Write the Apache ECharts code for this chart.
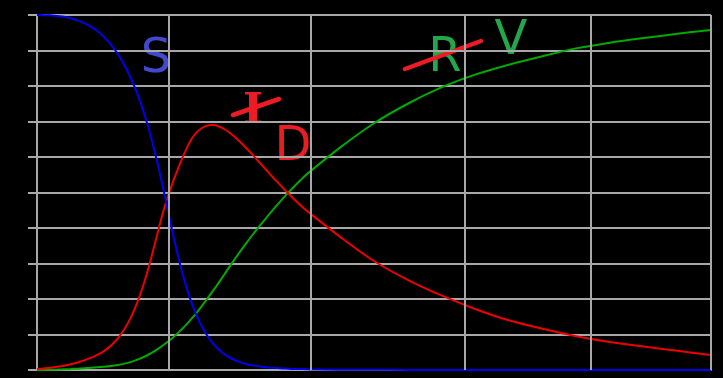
<!DOCTYPE html>
<html>
<head>
<meta charset="utf-8">
<script src="https://cdn.jsdelivr.net/npm/echarts@6/dist/echarts.min.js"></script>
<style>
  html, body { margin: 0; padding: 0; background: #000; }
  #chart { width: 723px; height: 378px; }
</style>
</head>
<body>
<div id="chart"></div>
<script>
// time points (x), read as 0..100 across the plot
var t = [
  0, 1, 2, 3, 4, 5, 6, 7, 8, 9, 10, 11, 12, 13, 14, 15, 16, 17, 18, 19, 20,
  21, 22, 23, 24, 25, 26, 27, 28, 29, 30, 31, 32, 33, 34, 35, 36, 37, 38, 39, 40,
  45, 50, 55, 60, 65, 70, 75, 80, 85, 90, 95, 100
];
// S (blue)
var sVals = [
  1.000, 0.9995, 0.999, 0.997, 0.995, 0.991, 0.985, 0.977, 0.967, 0.954, 0.937,
  0.916, 0.890, 0.858, 0.819, 0.772, 0.716, 0.650, 0.573, 0.487, 0.398,
  0.315, 0.244, 0.186, 0.140, 0.104, 0.077, 0.057, 0.042, 0.031, 0.023,
  0.017, 0.013, 0.010, 0.008, 0.006, 0.005, 0.004, 0.003, 0.003, 0.002,
  0.001, 0.001, 0, 0, 0, 0, 0, 0, 0, 0, 0, 0
];
// I (red)
var iVals = [
  0.003, 0.0045, 0.0065, 0.009, 0.012, 0.016, 0.021, 0.027, 0.034, 0.043, 0.054,
  0.069, 0.089, 0.116, 0.151, 0.196, 0.252, 0.320, 0.394, 0.464, 0.521,
  0.571, 0.616, 0.653, 0.675, 0.687, 0.690, 0.686, 0.676, 0.662, 0.645,
  0.626, 0.606, 0.585, 0.564, 0.543, 0.523, 0.503, 0.484, 0.466, 0.449,
  0.375, 0.307, 0.254, 0.210, 0.172, 0.140, 0.116, 0.095, 0.079, 0.066, 0.054, 0.042
];
// R (green)
var rVals = [
  0, 0.0003, 0.0008, 0.0013, 0.002, 0.0028, 0.0038, 0.005, 0.0063, 0.0078, 0.009,
  0.011, 0.014, 0.018, 0.023, 0.030, 0.038, 0.048, 0.060, 0.074, 0.089,
  0.106, 0.125, 0.146, 0.169, 0.194, 0.220, 0.247, 0.275, 0.303, 0.330,
  0.356, 0.381, 0.405, 0.428, 0.451, 0.473, 0.494, 0.514, 0.533, 0.551,
  0.627, 0.695, 0.750, 0.796, 0.832, 0.860, 0.884, 0.906, 0.922, 0.935, 0.947, 0.958
];
// vertical grid lines (uneven spacing in the original)
var vLines = [19.6, 40.65, 63.5, 82.2, 100];

var gridColor = '#a8a8a8';
var red = '#ed1c24', green = '#22a84a', blue = '#4349cc';

var myChart = echarts.init(document.getElementById('chart'));

function pairs(vals) {
  return t.map(function (x, k) { return [x, vals[k]]; });
}

function curve(vals, color, extra) {
  var s = {
    type: 'line',
    data: pairs(vals),
    showSymbol: false,
    smooth: 0.3,
    lineStyle: { color: color, width: 2 },
    animation: false,
    silent: true
  };
  return Object.assign(s, extra || {});
}

var option = {
  backgroundColor: '#000',
  animation: false,
  grid: { left: 37, right: 12, top: 15, bottom: 8 },
  xAxis: {
    type: 'value', min: 0, max: 100,
    axisLine: { show: true, lineStyle: { color: gridColor, width: 2 } },
    axisTick: { show: false },
    axisLabel: { show: false },
    splitLine: { show: false }
  },
  yAxis: {
    type: 'value', min: 0, max: 1, interval: 0.1,
    axisLine: { show: true, lineStyle: { color: gridColor, width: 2 } },
    axisTick: { show: true, length: 9, lineStyle: { color: gridColor, width: 2 } },
    axisLabel: { show: false },
    splitLine: { show: true, lineStyle: { color: gridColor, width: 2 } }
  },
  series: [
    curve(rVals, '#00aa00', {
      markLine: {
        silent: true, symbol: 'none', animation: false,
        label: { show: false },
        lineStyle: { color: gridColor, width: 2, type: 'solid' },
        data: vLines.map(function (v) { return { xAxis: v }; })
      }
    }),
    curve(iVals, '#ee0000'),
    curve(sVals, '#0000ee')
  ],
  graphic: [
    { type: 'text', style: { x: 156, y: 60, text: 'S', fill: blue, font: '48px "DejaVu Sans"', textAlign: 'center', textVerticalAlign: 'middle' } },
    { type: 'text', style: { x: 253, y: 112, text: 'I', fill: red, font: 'bold 43px "DejaVu Serif"', textAlign: 'center', textVerticalAlign: 'middle' } },
    { type: 'text', style: { x: 293, y: 148, text: 'D', fill: red, font: '48px "DejaVu Sans"', textAlign: 'center', textVerticalAlign: 'middle' } },
    { type: 'text', style: { x: 445, y: 59, text: 'R', fill: green, font: '48px "DejaVu Sans"', textAlign: 'center', textVerticalAlign: 'middle' } },
    { type: 'text', style: { x: 511, y: 42, text: 'V', fill: green, font: '48px "DejaVu Sans"', textAlign: 'center', textVerticalAlign: 'middle' } },
    { type: 'line', shape: { x1: 233, y1: 115, x2: 279, y2: 99 }, style: { stroke: red, lineWidth: 4.5, lineCap: 'round' } },
    { type: 'line', shape: { x1: 405, y1: 69, x2: 481, y2: 41 }, style: { stroke: red, lineWidth: 4.5, lineCap: 'round' } }
  ]
};

myChart.setOption(option);
</script>
</body>
</html>
